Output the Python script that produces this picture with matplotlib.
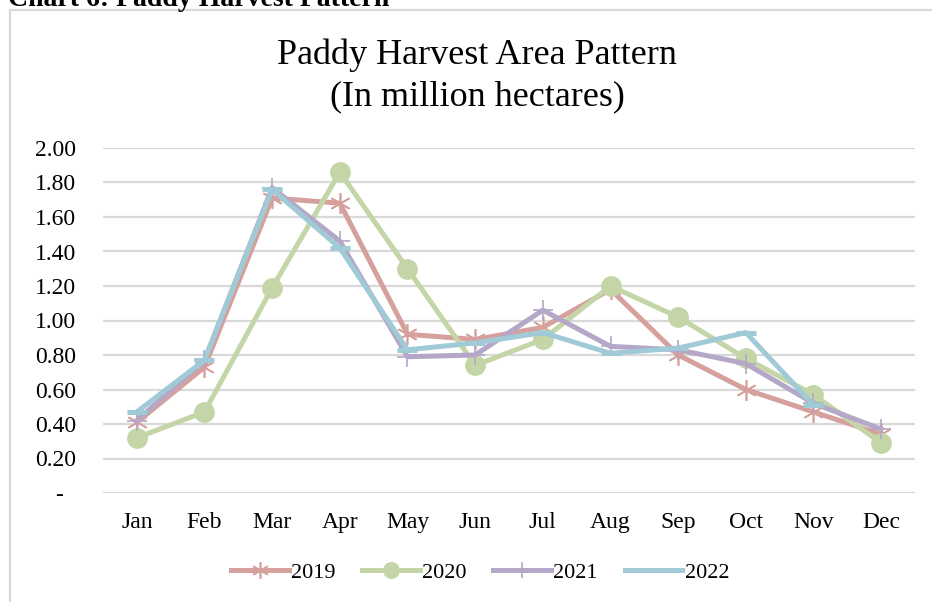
import numpy as np
import matplotlib
matplotlib.use("Agg")
import matplotlib.pyplot as plt
from matplotlib.patches import Rectangle

months = ["Jan", "Feb", "Mar", "Apr", "May", "Jun",
          "Jul", "Aug", "Sep", "Oct", "Nov", "Dec"]
y2019 = [0.41, 0.73, 1.71, 1.68, 0.92, 0.89, 0.96, 1.18, 0.80, 0.60, 0.47, 0.34]
y2020 = [0.32, 0.47, 1.19, 1.86, 1.30, 0.74, 0.89, 1.20, 1.02, 0.78, 0.57, 0.29]
y2021 = [0.42, 0.77, 1.77, 1.46, 0.79, 0.80, 1.06, 0.85, 0.83, 0.75, 0.52, 0.37]
y2022 = [0.47, 0.77, 1.76, 1.42, 0.83, 0.87, 0.93, 0.81, 0.84, 0.93, 0.51]
yticks = [0.0, 0.2, 0.4, 0.6, 0.8, 1.0, 1.2, 1.4, 1.6, 1.8, 2.0]

plt.rcParams['font.family'] = ['Liberation Serif', 'DejaVu Serif']

fig = plt.figure(figsize=(9.32, 6.02), dpi=100)
ax = fig.add_axes([103/932, 109/602, 812/932, 345/602])

# outer chart frame (open at right / bottom)
fig.patches.append(Rectangle((10/932, -0.05), 1.0, 1 - 10/602 + 0.05,
                             transform=fig.transFigure, fill=False,
                             edgecolor='#D9D9D9', lw=1.6))

x = np.arange(len(months))
ax.plot(x, y2019, color='#D6A09D', lw=3.6, marker=(6, 2, 0), ms=15,
        mew=1.2, mec='#D6A09D', label='2019', solid_joinstyle='miter', zorder=3)
ax.plot(x, y2020, color='#C4D6A8', lw=3.6, marker='o', ms=14,
        label='2020', zorder=3)
ax.plot(x[:len(y2021)], y2021, color='#B4A7C7', lw=3.6, marker='+', ms=15,
        mew=1.2, label='2021', zorder=3)
ax.plot(x[:len(y2022)], y2022, color='#A0CAD6', lw=3.6, marker='_', ms=14,
        mew=3.6, label='2022', zorder=3)

ax.set_xlim(-0.5, 11.5)
ax.set_ylim(0, 2.0)
ax.set_yticks(yticks)
ax.set_yticklabels(['-  '] + ['%.2f' % v for v in yticks[1:]])
ax.set_xticks(x)
ax.set_xticklabels(months)
ax.tick_params(axis='both', length=0, labelsize=17, colors='black')
ax.tick_params(axis='y', pad=19.5)
ax.tick_params(axis='x', pad=14)
ax.grid(axis='y', color='#D9D9D9', lw=1.6)
ax.set_axisbelow(True)
for s in ax.spines.values():
    s.set_visible(False)

fig.text(477/932, 1 - 55/602, 'Paddy Harvest Area Pattern', ha='center',
         va='center', fontsize=26)
fig.text(477/932, 1 - 97/602, '(In million hectares)', ha='center',
         va='center', fontsize=26)
fig.text(8/932, 1 - 6/602, 'Chart 6: Paddy Harvest Pattern', ha='left',
         va='baseline', fontsize=20, fontweight='bold')

leg = fig.legend(loc='center', bbox_to_anchor=(480/932, 1 - 573/602), ncol=4,
                 frameon=False, fontsize=16, handlelength=2.6,
                 columnspacing=1.2, handletextpad=0.1, markerscale=0.8)

fig.savefig('out.png', dpi=100)
